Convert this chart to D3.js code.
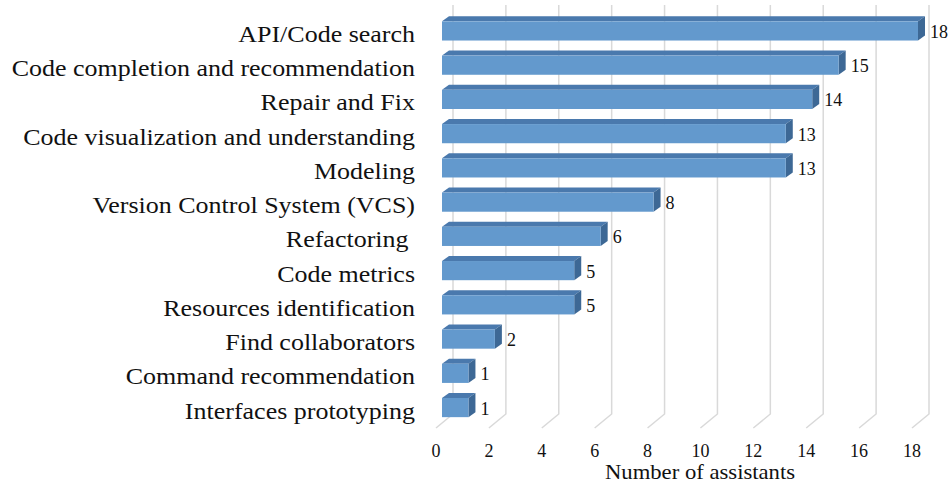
<!DOCTYPE html>
<html>
<head>
<meta charset="utf-8">
<script src="https://cdn.jsdelivr.net/npm/d3@7"></script>
<style>
  body { margin: 0; background: #fff; }
  text { font-family: "Liberation Serif", "Times New Roman", serif; fill: #111; white-space: pre; }
</style>
</head>
<body>
<div class="js-vis"></div>
<script>
"use strict";

var categories = [
  "API/Code search",
  "Code completion and recommendation",
  "Repair and Fix",
  "Code visualization and understanding",
  "Modeling",
  "Version Control System (VCS)",
  "Refactoring ",
  "Code metrics",
  "Resources identification",
  "Find collaborators",
  "Command recommendation",
  "Interfaces prototyping"
];
var values = [18, 15, 14, 13, 13, 8, 6, 5, 5, 2, 1, 1];
var ticks = [0, 2, 4, 6, 8, 10, 12, 14, 16, 18];
var axisTitle = "Number of assistants";

var width = 949, height = 487;
var left = 442;            // front plane of the bars
var depth = { dx: 7, dy: -5 };      // bar depth
var wallShift = 11;                 // back wall grid relative to front

var svg = d3.select(".js-vis").append("svg")
  .attr("width", width).attr("height", height);

var x = d3.scaleLinear().domain([0, 18]).range([left, left + 476]);
var y = d3.scaleBand().domain(categories).range([14.5, 424]).paddingInner(0.44).paddingOuter(0.2);

// gridlines: back wall verticals bending onto the floor
var gridTop = 5, gridBottom = 414;
svg.append("g").selectAll("path").data(ticks).enter().append("path")
  .attr("d", function (d) {
    var bx = x(d) + wallShift;
    return "M" + bx + "," + gridTop + "V" + gridBottom +
      "L" + (bx - 17) + "," + (gridBottom + 14);
  })
  .attr("fill", "none").attr("stroke", "#d9d9d9").attr("stroke-width", 1.5);

// bars
var bars = svg.append("g").selectAll("g").data(values).enter().append("g");
bars.append("path") // top face
  .attr("d", function (d, i) {
    var y0 = y(categories[i]), x0 = x(0), x1 = x(d);
    return "M" + x0 + "," + y0 + "L" + (x0 + depth.dx) + "," + (y0 + depth.dy) +
      "L" + (x1 + depth.dx) + "," + (y0 + depth.dy) + "L" + x1 + "," + y0 + "Z";
  })
  .attr("fill", "#4a79ad");
bars.append("path") // side face
  .attr("d", function (d, i) {
    var y0 = y(categories[i]), y1 = y0 + y.bandwidth(), x1 = x(d);
    return "M" + x1 + "," + y0 + "L" + (x1 + depth.dx) + "," + (y0 + depth.dy) +
      "L" + (x1 + depth.dx) + "," + (y1 + depth.dy) + "L" + x1 + "," + y1 + "Z";
  })
  .attr("fill", "#3d6895");
bars.append("rect") // front face
  .attr("x", x(0))
  .attr("y", function (d, i) { return y(categories[i]); })
  .attr("width", function (d) { return x(d) - x(0); })
  .attr("height", y.bandwidth())
  .attr("fill", "#6399cd");

// value labels
bars.append("text")
  .attr("x", function (d) { return x(d) + depth.dx + 5; })
  .attr("y", function (d, i) { return y(categories[i]) + y.bandwidth() / 2 + 7; })
  .attr("font-size", 18)
  .text(function (d) { return d; });

// category labels (the source font is wider than Times, so stretch a little)
svg.append("g").selectAll("text").data(categories).enter().append("text")
  .attr("transform", function (d) {
    return "translate(415," + (y(d) + y.bandwidth() / 2 + 11) + ") scale(1.13,1)";
  })
  .attr("text-anchor", "end")
  .attr("font-size", 23)
  .text(function (d) { return d; });

// tick labels
svg.append("g").selectAll("text").data(ticks).enter().append("text")
  .attr("x", function (d) { return x(d) - 6; })
  .attr("y", 457)
  .attr("text-anchor", "middle")
  .attr("font-size", 18)
  .text(function (d) { return d; });

svg.append("text")
  .attr("transform", "translate(700,479) scale(1.08,1)")
  .attr("text-anchor", "middle")
  .attr("font-size", 21)
  .text(axisTitle);
</script>
</body>
</html>
